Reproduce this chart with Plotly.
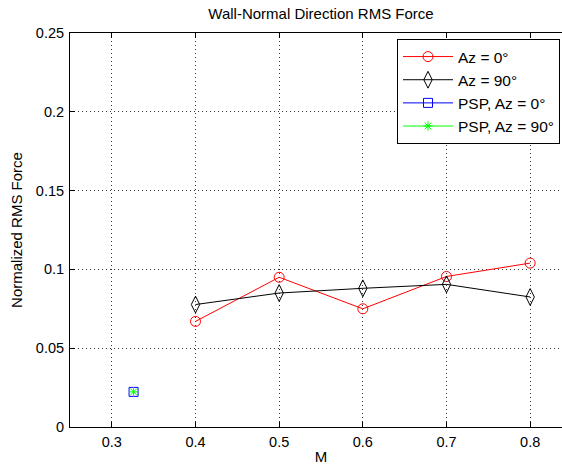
import plotly.graph_objects as go

mach = [0.4, 0.5, 0.6, 0.7, 0.8]
az0 = [0.067, 0.095, 0.075, 0.0955, 0.104]
az90 = [0.0777, 0.085, 0.088, 0.0905, 0.0825]
psp_mach = [0.326]
psp_az0 = [0.0223]
psp_az90 = [0.0223]
x_ticks = [0.3, 0.4, 0.5, 0.6, 0.7, 0.8]
y_ticks = [0, 0.05, 0.1, 0.15, 0.2, 0.25]

FONT = "Liberation Sans, Arial, sans-serif"

fig = go.Figure()
fig.add_trace(go.Scatter(x=mach, y=az0, mode="lines+markers", name="Az = 0°",
                         line=dict(color="#ff0000", width=1),
                         marker=dict(symbol="circle-open", size=10, color="#ff0000", line=dict(width=1))))
fig.add_trace(go.Scatter(x=mach, y=az90, mode="lines+markers", name="Az = 90°",
                         line=dict(color="#000000", width=1),
                         marker=dict(symbol="diamond-tall-open", size=12, color="#000000", line=dict(width=1))))
fig.add_trace(go.Scatter(x=psp_mach, y=psp_az0, mode="lines+markers", name="PSP, Az = 0°",
                         line=dict(color="#0000ff", width=1),
                         marker=dict(symbol="square-open", size=9, color="#0000ff", line=dict(width=1))))
fig.add_trace(go.Scatter(x=psp_mach, y=psp_az90, mode="lines+markers", name="PSP, Az = 90°",
                         line=dict(color="#00ff00", width=1),
                         marker=dict(symbol="asterisk-open", size=8, color="#00ff00", line=dict(width=1, color="#00ff00"))))

fig.update_layout(
    width=600, height=465,
    margin=dict(l=70, r=28, t=33, b=38),
    paper_bgcolor="white", plot_bgcolor="white",
    font=dict(family=FONT, size=14.5, color="#000000"),
    title=dict(text="Wall-Normal Direction RMS Force", x=(70 + 572) / 2 / 600, xanchor="center",
               y=1 - 14 / 465, yanchor="middle", font=dict(size=15)),
    showlegend=True,
    legend=dict(x=(397 - 70) / 502, y=1 - (39 - 33) / 394, xanchor="left", yanchor="top",
                bgcolor="white", bordercolor="#000000", borderwidth=1,
                font=dict(size=15.5), itemwidth=50, tracegroupgap=0),
)
fig.update_xaxes(range=[0.25, 0.85], tickvals=x_ticks, ticktext=[f"{v:g}" for v in x_ticks],
                 automargin=False,
                 showline=True, linecolor="#000000", linewidth=1, mirror="ticks",
                 ticks="inside", ticklen=5, tickcolor="#000000", ticklabelstandoff=2,
                 showgrid=True, gridcolor="#333333", griddash="1px,3px", gridwidth=1,
                 zeroline=False, title=dict(text="M", standoff=4, font=dict(size=15)))
fig.update_yaxes(range=[0, 0.25], tickvals=y_ticks, ticktext=[f"{v:g}" for v in y_ticks],
                 automargin=False,
                 showline=True, linecolor="#000000", linewidth=1, mirror=False,
                 ticks="inside", ticklen=5, tickcolor="#000000", ticklabelstandoff=2,
                 showgrid=True, gridcolor="#333333", griddash="1px,3px", gridwidth=1,
                 zeroline=False, title=dict(text="Normalized RMS Force", standoff=9, font=dict(size=15)))

fig.write_html("out.html", post_script="document.body.style.overflow='hidden';document.documentElement.style.overflow='hidden';")
